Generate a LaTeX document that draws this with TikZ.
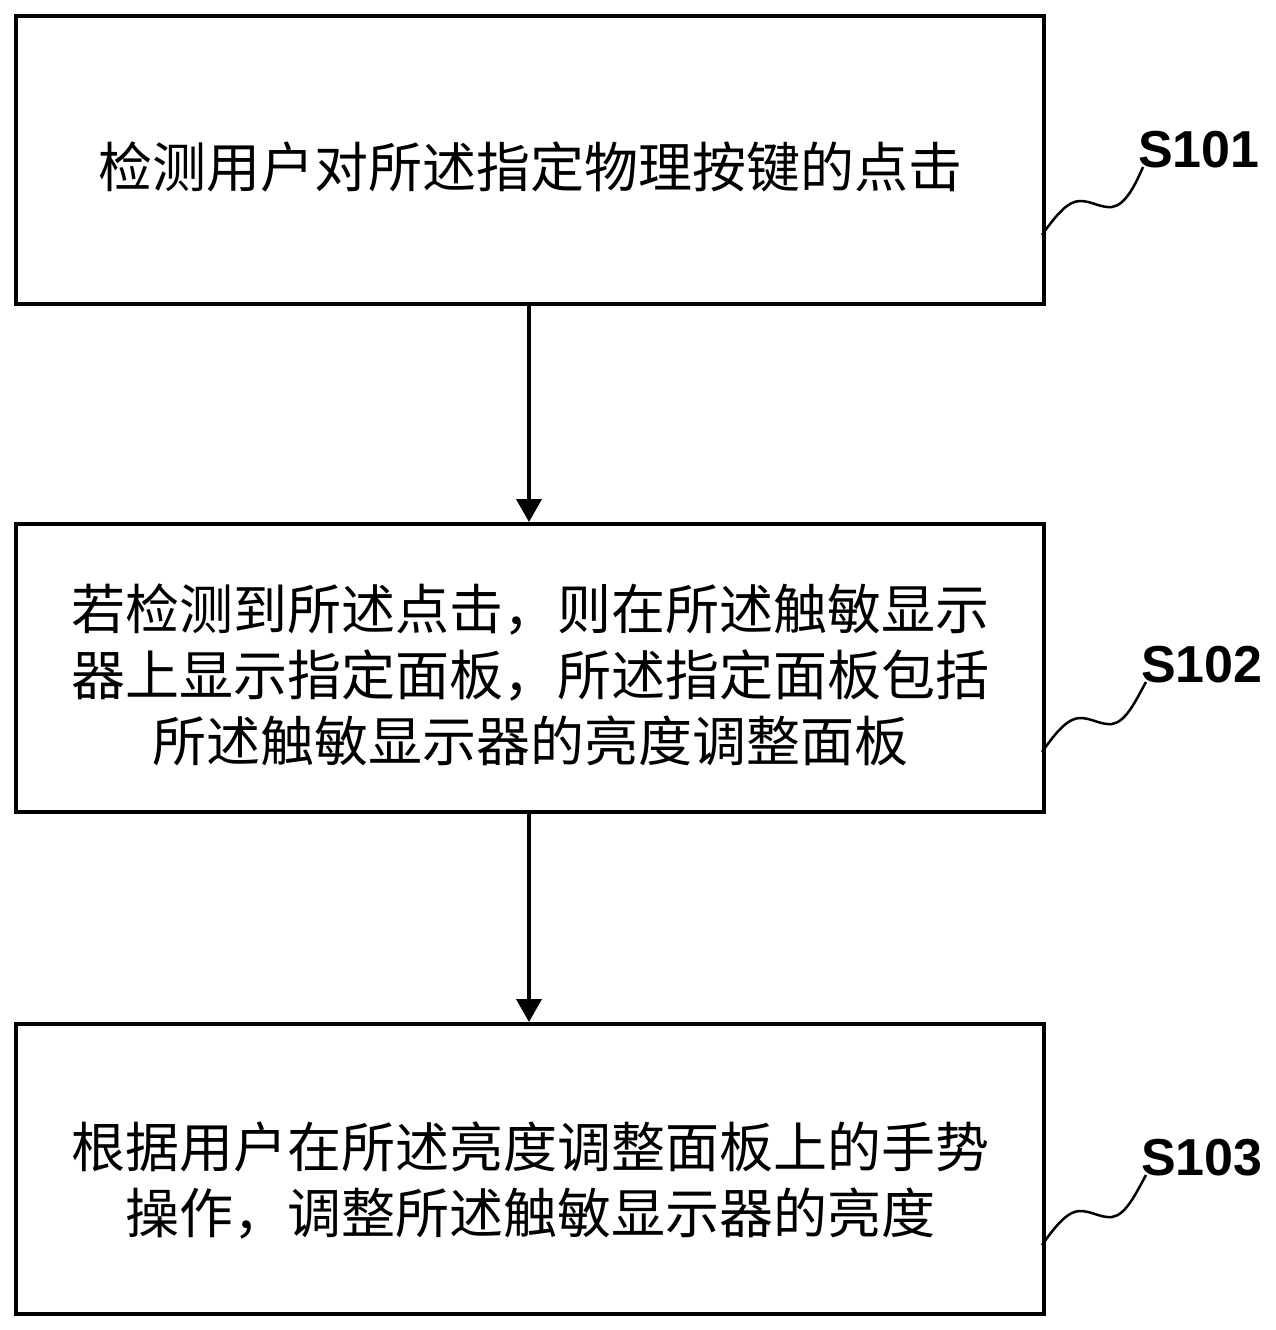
\documentclass[tikz,border=0pt]{standalone}
\usepackage{fontspec}
\newfontfamily\cjk{Noto Sans CJK SC}
\newfontfamily\lab{Liberation Sans}
\usetikzlibrary{arrows.meta,calc}
\begin{document}
\begin{tikzpicture}[x=1pt,y=-1pt,
  stepbox/.style={draw,line width=4pt,minimum width=1028pt,anchor=north west,inner sep=0pt},
  steptext/.style={inner sep=0pt,align=center,font=\cjk\fontsize{54}{66}\selectfont},
  flow/.style={line width=4pt,-{Triangle[length=23pt,width=25pt]}},
  steplab/.style={anchor=base west,inner sep=0pt,font=\lab\bfseries\fontsize{52}{60}\selectfont},
  squig/.style={line width=2.5pt}]
\useasboundingbox (0,0) rectangle (1276,1330);
\node[stepbox,minimum height=288pt] (b1) at (14,14) {};
\node[stepbox,minimum height=288pt] (b2) at (14,522) {};
\node[stepbox,minimum height=290pt] (b3) at (14,1022) {};
\node[steptext] (t1) at ($(b1.center)+(0,7)$) {检测用户对所述指定物理按键的点击};
\node[steptext] (t2) at ($(b2.center)+(0,7)$) {若检测到所述点击，则在所述触敏显示\\器上显示指定面板，所述指定面板包括\\所述触敏显示器的亮度调整面板};
\node[steptext] (t3) at ($(b3.center)+(0,12)$) {根据用户在所述亮度调整面板上的手势\\操作，调整所述触敏显示器的亮度};
\draw[flow] (b1.south -| 529,0) -- (b2.north -| 529,0);
\draw[flow] (b2.south -| 529,0) -- (b3.north -| 529,0);
\node[steplab] (l1) at (1138,167) {S101};
\node[steplab] (l2) at (1141,682) {S102};
\node[steplab] (l3) at (1141,1175) {S103};
\coordinate (c1) at (1042,235);
\coordinate (c2) at (1042,752);
\coordinate (c3) at (1042,1245);
\foreach \c/\l in {c1/l1,c2/l2,c3/l3}{
  \draw[squig] (\c) .. controls ($(\c)+(14,-20)$) and ($(\c)+(26,-34)$) .. ($(\c)+(38,-34)$)
    .. controls ($(\c)+(50,-34)$) and ($(\c)+(58,-27)$) .. ($(\c)+(70,-28)$)
    .. controls ($(\c)+(84,-30)$) and ($(\c)+(94,-52)$) .. ($(\l.base west)+(5,0)$);
}
\end{tikzpicture}
\end{document}
